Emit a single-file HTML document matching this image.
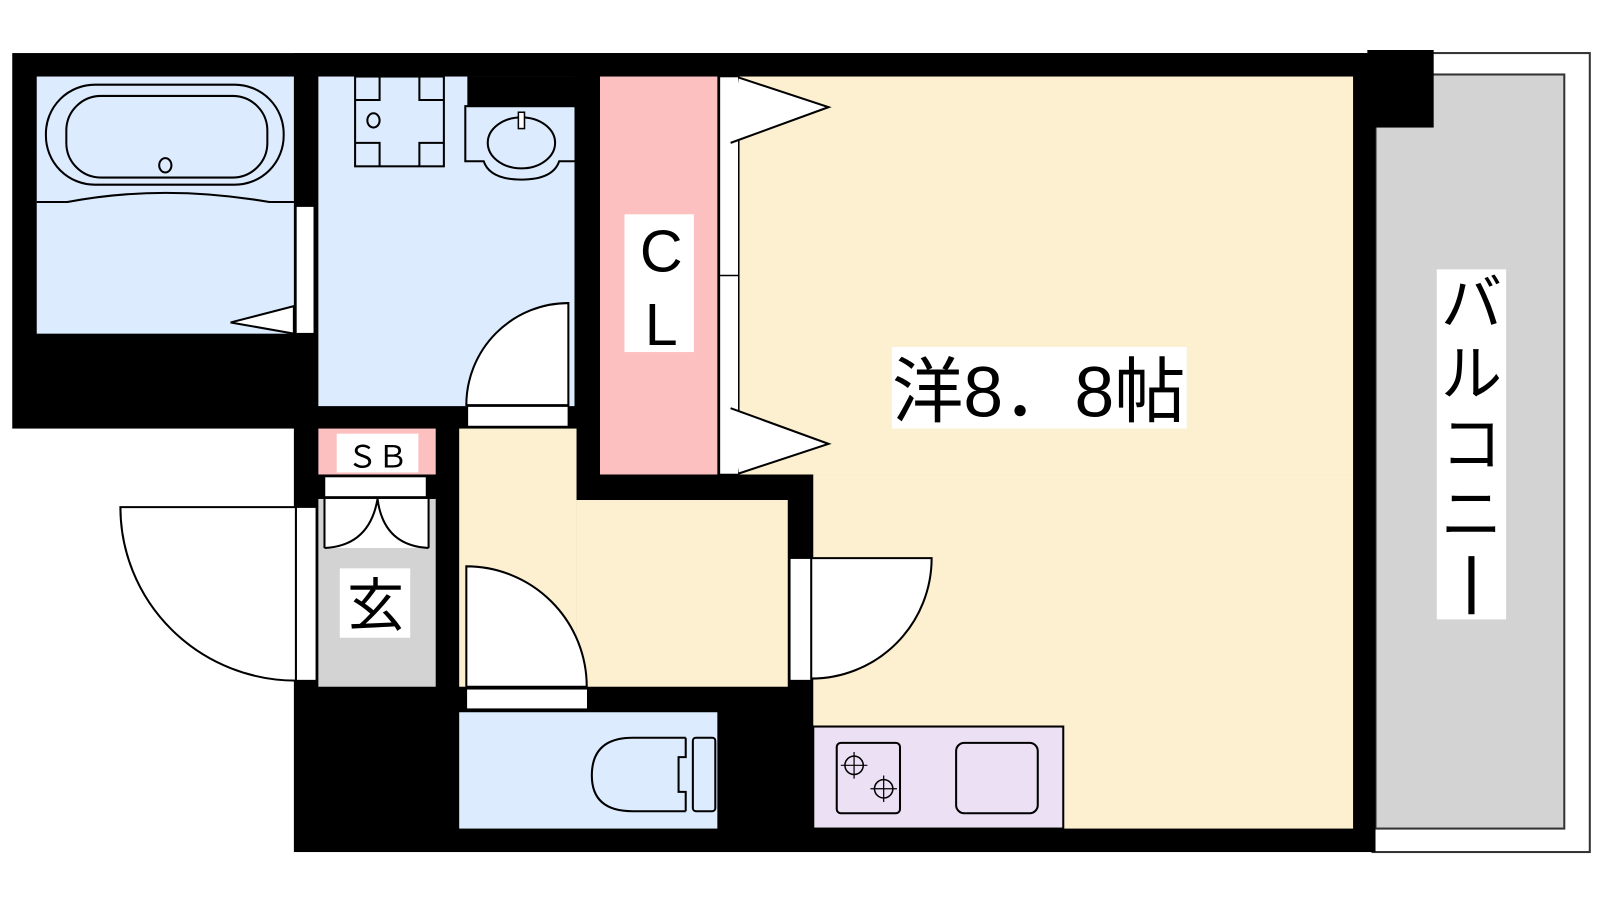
<!DOCTYPE html>
<html><head><meta charset="utf-8"><style>
html,body{margin:0;padding:0;background:#fff;width:1600px;height:900px;overflow:hidden}
svg{display:block}
text{font-family:"Liberation Sans","Noto Sans CJK JP",sans-serif;fill:#000}
</style></head><body>
<svg width="1600" height="900" viewBox="0 0 1568 882" xmlns="http://www.w3.org/2000/svg">
<rect width="1568" height="882" fill="#fff"/>
<!-- balcony -->
<rect x="1345" y="52" width="213" height="783" fill="#fff" stroke="#333" stroke-width="2"/>
<rect x="1348" y="73" width="185" height="739" fill="#d3d3d3" stroke="#333" stroke-width="2"/>
<rect x="1340" y="49" width="65" height="76" fill="#000"/>
<!-- building black -->
<rect x="12" y="52" width="1336" height="368" fill="#000"/>
<rect x="288" y="52" width="1060" height="783" fill="#000"/>
<!-- bathroom -->
<rect x="36" y="75" width="252" height="252" fill="#dcebfd"/>
<rect x="45" y="83" width="233" height="98" rx="48" fill="none" stroke="#000" stroke-width="2"/>
<rect x="65" y="94" width="197" height="80" rx="34" fill="none" stroke="#000" stroke-width="2"/>
<ellipse cx="162" cy="162" rx="6" ry="7" fill="none" stroke="#000" stroke-width="2"/>
<path d="M36 198 H66 Q160 180 264 198 H288" fill="none" stroke="#000" stroke-width="2"/>
<rect x="290" y="202" width="18" height="125" fill="#fff" stroke="#000" stroke-width="1.5"/>
<path d="M288 300 L226 316 L288 327 Z" fill="#fff" stroke="#000" stroke-width="2"/>
<!-- washroom -->
<rect x="312" y="75" width="251" height="323" fill="#dcebfd"/>
<rect x="458" y="75" width="106" height="30" fill="#000"/>
<rect x="348" y="75" width="87" height="88" fill="none" stroke="#000" stroke-width="2"/>
<path d="M348 98 H372 V75 M411 75 V98 H435 M348 140 H372 V163 M411 163 V140 H435" fill="none" stroke="#000" stroke-width="2"/>
<ellipse cx="366" cy="118" rx="6" ry="7" fill="none" stroke="#000" stroke-width="2"/>
<path d="M563 104 H456 V158 H474 Q480 176 511 176 Q542 176 548 158 H563" fill="none" stroke="#000" stroke-width="2"/>
<ellipse cx="511" cy="140" rx="33" ry="25" fill="none" stroke="#000" stroke-width="2"/>
<rect x="508" y="110" width="6" height="16" fill="#fff" stroke="#000" stroke-width="1.5"/>
<path d="M557 397 V297 A100 100 0 0 0 457 397 Z" fill="#fff" stroke="#000" stroke-width="2"/>
<rect x="458" y="398" width="99" height="20" fill="#fff" stroke="#000" stroke-width="1.5"/>
<!-- closet -->
<rect x="588" y="75" width="115" height="390" fill="#fdc0c0"/>
<rect x="612" y="210" width="68" height="135" fill="#fff"/>
<text x="648" y="266" font-size="58" text-anchor="middle">C</text>
<text x="648" y="338" font-size="58" text-anchor="middle">L</text>
<!-- main room & hall -->
<rect x="724" y="75" width="602" height="390" fill="#fdf0d0"/>
<rect x="797" y="465" width="529" height="347" fill="#fdf0d0"/>
<rect x="450" y="420" width="115" height="253" fill="#fdf0d0"/>
<rect x="565" y="490" width="207" height="183" fill="#fdf0d0"/>
<rect x="705" y="75" width="19" height="390" fill="#fff" stroke="#000" stroke-width="1.5"/>
<line x1="705" y1="270" x2="724" y2="270" stroke="#000" stroke-width="1.5"/>
<path d="M724 76 L812 105 L716 140" fill="#fff" stroke="#000" stroke-width="2"/>
<path d="M716 400 L812 435 L724 464" fill="#fff" stroke="#000" stroke-width="2"/>
<rect x="874" y="340" width="289" height="80" fill="#fff"/>
<text x="1018" y="408" font-size="70" text-anchor="middle">洋8．8帖</text>
<!-- hall to room door -->
<rect x="774" y="547" width="21" height="120" fill="#fff" stroke="#000" stroke-width="1.5"/>
<path d="M795 547 H913 A118 118 0 0 1 795 665 Z" fill="#fff" stroke="#000" stroke-width="2"/>
<!-- hall to toilet door -->
<path d="M457 673 V555 A118 118 0 0 1 575 673 Z" fill="#fff" stroke="#000" stroke-width="2"/>
<rect x="457" y="675" width="119" height="20" fill="#fff" stroke="#000" stroke-width="1.5"/>
<!-- SB -->
<rect x="312" y="420" width="115" height="45" fill="#fdc0c0"/>
<rect x="330" y="425" width="80" height="38" fill="#fff"/>
<text x="370" y="458" font-size="30" text-anchor="middle">ＳＢ</text>
<rect x="318" y="467" width="100" height="20" fill="#fff" stroke="#000" stroke-width="1.5"/>
<!-- genkan -->
<rect x="312" y="489" width="115" height="184" fill="#d3d3d3"/>
<rect x="318" y="489" width="102" height="48" fill="#fff"/>
<path d="M318 537 V489 M420 537 V489" stroke="#000" stroke-width="2"/>
<path d="M318 537 Q362 535 370 489 Q376 535 420 537" fill="none" stroke="#000" stroke-width="2"/>
<rect x="333" y="557" width="69" height="68" fill="#fff"/>
<text x="368" y="613" font-size="56" text-anchor="middle">玄</text>
<rect x="290" y="497" width="20" height="170" fill="#fff" stroke="#000" stroke-width="1.5"/>
<path d="M290 497 H118 A172 170 0 0 0 290 667 Z" fill="#fff" stroke="#000" stroke-width="2"/>
<!-- toilet -->
<rect x="450" y="698" width="253" height="114" fill="#dcebfd"/>
<path d="M672 723 H620 Q580 723 580 760 Q580 795 620 795 H672" fill="#dcebfd" stroke="#000" stroke-width="2"/>
<path d="M672 723 V742 H665 V776 H672 V795" fill="none" stroke="#000" stroke-width="2"/>
<rect x="679" y="723" width="22" height="72" rx="3" fill="#dcebfd" stroke="#000" stroke-width="2"/>
<!-- kitchen -->
<rect x="797" y="712" width="245" height="100" fill="#ece0f5" stroke="#000" stroke-width="2"/>
<rect x="820" y="728" width="62" height="69" rx="4" fill="none" stroke="#000" stroke-width="2"/>
<circle cx="837" cy="750" r="9" fill="none" stroke="#000" stroke-width="1.5"/>
<circle cx="866" cy="773" r="9" fill="none" stroke="#000" stroke-width="1.5"/>
<path d="M837 737 V763 M824 750 H850 M866 760 V786 M853 773 H879" stroke="#000" stroke-width="1.2"/>
<rect x="937" y="728" width="80" height="69" rx="8" fill="none" stroke="#000" stroke-width="2"/>
<!-- balcony label -->
<rect x="1408" y="264" width="68" height="343" fill="#fff"/>
<text x="1442" y="318" font-size="60" text-anchor="middle">バ</text>
<text x="1442" y="387" font-size="60" text-anchor="middle">ル</text>
<text x="1442" y="456" font-size="60" text-anchor="middle">コ</text>
<text x="1442" y="525" font-size="60" text-anchor="middle">ニ</text>
<line x1="1442" y1="545" x2="1442" y2="602" stroke="#000" stroke-width="6"/>
</svg>
</body></html>
